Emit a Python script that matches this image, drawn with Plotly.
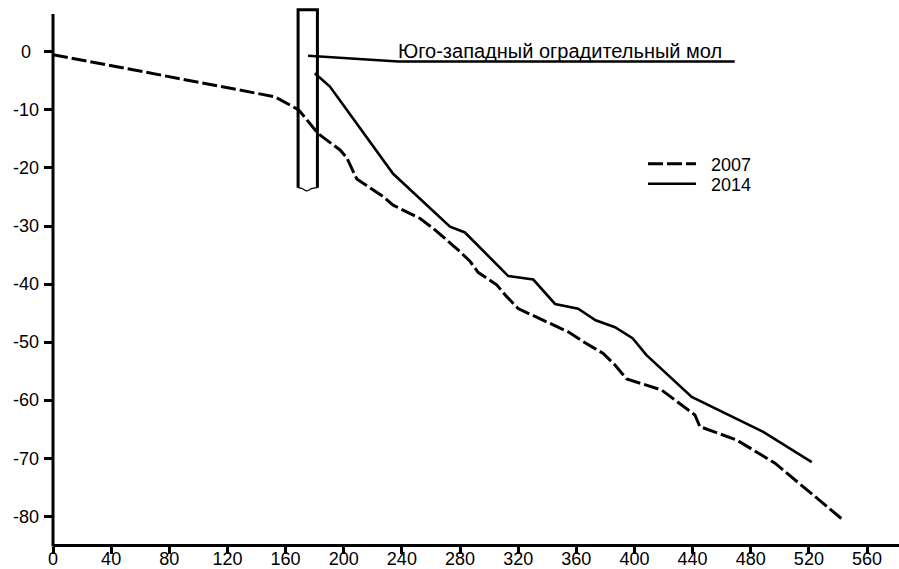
import plotly.graph_objects as go

# ---------------- data ----------------
x_ticks = list(range(0, 561, 40))
y_ticks = [0, -10, -20, -30, -40, -50, -60, -70, -80]
y_tick_labels = [str(v) for v in y_ticks]

dist_2007 = [0, 152.6, 169, 182.4, 197.5, 202, 209, 227, 234, 252.5, 261.6, 280,
             287, 292.6, 305.2, 312, 320, 344, 354.4, 364.8, 378.5, 386.6, 394.6,
             406, 418.7, 441.6, 445, 470.3, 496.7, 543.7]
depth_2007 = [-0.5, -7.75, -10.0, -14.1, -16.9, -18.2, -21.9, -24.9, -26.4, -28.7,
              -30.4, -34.4, -36.1, -38.0, -40.1, -42.1, -44.2, -47.0, -48.2, -49.9,
              -51.9, -53.9, -56.3, -57.2, -58.2, -62.5, -64.5, -66.8, -70.8, -80.6]

dist_2014 = [180.1, 190.5, 234, 273.1, 283.4, 313.2, 330.4, 345.4, 361.3, 373.3,
             386.6, 398.7, 408.3, 439.4, 488.6, 522]
depth_2014 = [-3.7, -6.0, -21.0, -30.1, -31.1, -38.6, -39.2, -43.4, -44.2, -46.2,
              -47.4, -49.3, -52.2, -59.4, -65.4, -70.6]

# pier (mole) outline
pier_x = [168.6, 168.6, 181.9, 181.9]
pier_y = [-23.4, 7.2, 7.2, -23.4]
pier_break_x = [168.6, 171.5, 174.5, 177.5, 181.9]
pier_break_y = [-23.4, -23.55, -23.95, -23.6, -23.4]

# label leader line
mole_x = [175.5, 237.5, 469.0]
mole_y = [-0.7, -1.7, -1.7]
mole_label = "Юго-западный оградительный мол"

series_names = ["2007", "2014"]

FONT = "Liberation Sans, Arial, sans-serif"
DASH = "15px,4px"

fig = go.Figure()
fig.add_trace(go.Scatter(x=dist_2007, y=depth_2007, mode="lines",
                         line=dict(color="black", width=3, dash=DASH),
                         name=series_names[0], showlegend=False))
fig.add_trace(go.Scatter(x=dist_2014, y=depth_2014, mode="lines",
                         line=dict(color="black", width=2.6),
                         name=series_names[1], showlegend=False))
fig.add_trace(go.Scatter(x=pier_x, y=pier_y, mode="lines",
                         line=dict(color="black", width=3), showlegend=False,
                         hoverinfo="skip"))
fig.add_trace(go.Scatter(x=pier_break_x, y=pier_break_y, mode="lines",
                         line=dict(color="black", width=1.2, shape="spline"),
                         showlegend=False, hoverinfo="skip"))
fig.add_trace(go.Scatter(x=mole_x, y=mole_y, mode="lines",
                         line=dict(color="black", width=2.5), showlegend=False,
                         hoverinfo="skip"))

annotations = []
# mole label
annotations.append(dict(x=mole_x[1], y=mole_y[1], xref="x", yref="y",
                        text=mole_label, showarrow=False, xanchor="left",
                        yanchor="bottom", xshift=-2, yshift=-2,
                        font=dict(family=FONT, size=20, color="black")))
# y tick labels (centred, as in the original)
for v, t in zip(y_ticks, y_tick_labels):
    annotations.append(dict(x=0, y=v, xref="paper", yref="y", text=t,
                            showarrow=False, xanchor="center", yanchor="middle",
                            xshift=-27, font=dict(family=FONT, size=18, color="black")))

# plot area: top 8px, bottom 544px, left 53px, width 846px
PLOT_TOP, PLOT_BOTTOM = 8, 544
def py(px):
    return (PLOT_BOTTOM - px) / (PLOT_BOTTOM - PLOT_TOP)

shapes = []
# y axis line (starts a little below the top of the plot area)
shapes.append(dict(type="line", xref="paper", yref="paper", x0=0, x1=0,
                   y0=py(546.5), y1=py(14), line=dict(color="black", width=3)))

# manual legend
leg_x0, leg_x1, leg_tx = 0.7033, 0.7600, 0.7758
leg_ys = [py(163.7), py(183.7)]
for i, name in enumerate(series_names):
    shapes.append(dict(type="line", xref="paper", yref="paper",
                       x0=leg_x0, x1=leg_x1, y0=leg_ys[i], y1=leg_ys[i],
                       line=dict(color="black", width=3 if i == 0 else 2.6,
                                 dash=DASH if i == 0 else "solid")))
    annotations.append(dict(x=leg_tx, y=leg_ys[i], xref="paper", yref="paper",
                            text=name, showarrow=False, xanchor="left",
                            yanchor="middle", yshift=-1,
                            font=dict(family=FONT, size=18, color="black")))

fig.update_layout(
    width=899, height=569,
    margin=dict(l=53, r=0, t=PLOT_TOP, b=569 - PLOT_BOTTOM, autoexpand=False),
    paper_bgcolor="white", plot_bgcolor="white",
    font=dict(family=FONT, size=18, color="black"),
    showlegend=False,
    annotations=annotations,
    shapes=shapes,
)
fig.update_xaxes(range=[0, 582], tickvals=x_ticks, ticktext=[str(v) for v in x_ticks],
                 showline=True, linecolor="black", linewidth=3,
                 ticks="outside", ticklen=7, tickwidth=2.5, tickcolor="black",
                 ticklabelstandoff=-11,
                 showgrid=False, zeroline=False, automargin=False,
                 tickfont=dict(family=FONT, size=18, color="black"))
fig.update_yaxes(range=[-84.70, 7.52], tickvals=y_ticks, showticklabels=False,
                 showline=False, automargin=False,
                 ticks="outside", ticklen=8, tickwidth=2.5, tickcolor="black",
                 showgrid=False, zeroline=False)

fig.write_html("out.html", config={"displayModeBar": False},
               post_script="document.body.style.margin='0';")
